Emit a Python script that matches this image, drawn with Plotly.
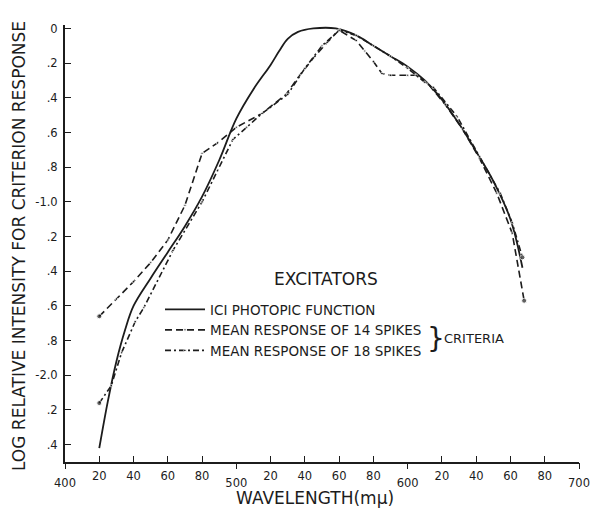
import plotly.graph_objects as go

# ICI photopic luminosity function (log relative sensitivity)
photopic_nm = [420, 425, 430, 435, 440, 450, 460, 470, 480, 490, 500, 510, 520,
               525, 530, 536, 545, 558, 570, 580, 590, 600, 610, 620, 630, 640,
               650, 660, 667]
photopic_log = [-2.42, -2.15, -1.92, -1.74, -1.60, -1.44, -1.29, -1.14, -0.97, -0.76,
                -0.52, -0.35, -0.21, -0.13, -0.06, -0.02, 0.0, 0.0, -0.04, -0.10,
                -0.16, -0.22, -0.30, -0.41, -0.55, -0.71, -0.88, -1.10, -1.38]

# Mean response of 14 spikes
spikes14_nm = [420, 430, 440, 450, 460, 470, 480, 489, 500, 515, 529, 537, 545, 553,
               560, 570, 575, 580, 585, 590, 600, 605, 612, 622, 632, 642, 652, 661, 668]
spikes14_log = [-1.66, -1.56, -1.46, -1.35, -1.22, -1.02, -0.72, -0.66, -0.57, -0.49,
                -0.38, -0.27, -0.17, -0.08, -0.01, -0.07, -0.13, -0.19, -0.26, -0.27,
                -0.27, -0.27, -0.32, -0.44, -0.58, -0.75, -0.95, -1.18, -1.57]

# Mean response of 18 spikes
spikes18_nm = [420, 427, 433, 441, 446, 463, 480, 489, 498, 506, 515, 530, 540, 550,
               560, 570, 580, 590, 600, 610, 615, 629, 642, 654, 661, 667]
spikes18_log = [-2.16, -2.06, -1.87, -1.69, -1.61, -1.28, -1.00, -0.82, -0.64, -0.57,
                -0.49, -0.38, -0.23, -0.10, -0.01, -0.04, -0.10, -0.16, -0.23, -0.31,
                -0.34, -0.51, -0.74, -0.95, -1.12, -1.32]

# Axis ticks
x_minor_vals = [420, 440, 460, 480, 520, 540, 560, 580, 620, 640, 660, 680]
x_minor_text = ["20", "40", "60", "80", "20", "40", "60", "80", "20", "40", "60", "80"]
x_major_vals = [400, 500, 600, 700]
x_major_text = ["400", "500", "600", "700"]
y_tick_vals = [0, -0.2, -0.4, -0.6, -0.8, -1.0, -1.2, -1.4, -1.6, -1.8, -2.0, -2.2, -2.4]
y_tick_text = ["0", ".2", ".4", ".6", ".8", "-1.0", ".2", ".4", ".6", ".8", "-2.0", ".2", ".4"]

FONT = "DejaVu Sans"
INK = "#1c1c1c"

# plot-area geometry in pixels
L, R, T, B = 65, 13, 25, 51
W, H = 592, 513
PW, PH = W - L - R, H - T - B


def px(x):
    return (x - L) / PW


def py(y):
    return (H - B - y) / PH


def end_sizes(n, end=5, mid=2.5):
    return [end] + [mid] * (n - 2) + [end]


fig = go.Figure()
fig.add_trace(go.Scatter(
    x=photopic_nm, y=photopic_log, mode="lines", line_shape="spline",
    name="ICI PHOTOPIC FUNCTION",
    line=dict(color=INK, width=1.8),
))
fig.add_trace(go.Scatter(
    x=spikes14_nm, y=spikes14_log, mode="lines+markers",
    name="MEAN RESPONSE OF 14 SPIKES",
    line=dict(color=INK, width=1.6, dash="7px,4px"),
    marker=dict(color=INK, size=end_sizes(len(spikes14_nm))),
))
fig.add_trace(go.Scatter(
    x=spikes18_nm, y=spikes18_log, mode="lines+markers",
    name="MEAN RESPONSE OF 18 SPIKES",
    line=dict(color=INK, width=1.6, dash="6px,3px,2px,3px"),
    marker=dict(color=INK, size=end_sizes(len(spikes18_nm))),
))
# empty trace on the overlaid x axis that carries the hundreds labels
fig.add_trace(go.Scatter(x=[400, 700], y=[None, None], xaxis="x2",
                         showlegend=False, hoverinfo="skip"))

fig.update_layout(
    width=W, height=H,
    margin=dict(l=L, r=R, t=T, b=B, autoexpand=False),
    paper_bgcolor="white", plot_bgcolor="white",
    font=dict(family=FONT, color=INK, size=11),
    showlegend=True,
    legend=dict(
        x=px(160), y=py(294), xanchor="left", yanchor="top",
        bgcolor="rgba(0,0,0,0)", font=dict(size=13.5, family=FONT, color=INK),
        itemwidth=40, tracegroupgap=0,
    ),
    xaxis=dict(
        range=[400, 700], showgrid=False, zeroline=False,
        showline=True, linecolor=INK, linewidth=2,
        tickmode="array", tickvals=x_minor_vals, ticktext=x_minor_text,
        ticks="inside", ticklen=6, tickcolor=INK, tickwidth=1.2,
        tickfont=dict(size=11.5), ticklabelstandoff=2,
    ),
    xaxis2=dict(
        range=[400, 700], overlaying="x", anchor="y", side="bottom",
        showgrid=False, zeroline=False, showline=False,
        tickmode="array", tickvals=x_major_vals, ticktext=x_major_text,
        ticks="outside", ticklen=6, tickcolor=INK, tickwidth=1.2,
        tickfont=dict(size=11.5), ticklabelstandoff=4,
    ),
    yaxis=dict(
        range=[-2.5, 0.02], showgrid=False, zeroline=False,
        showline=True, linecolor=INK, linewidth=2,
        tickmode="array", tickvals=y_tick_vals, ticktext=y_tick_text,
        ticks="inside", ticklen=6, tickcolor=INK, tickwidth=1.2,
        tickfont=dict(size=11.5), ticklabelstandoff=3,
    ),
    annotations=[
        dict(text="EXCITATORS", xref="paper", yref="paper",
             x=px(326), y=py(279), xanchor="center", yanchor="middle",
             showarrow=False, font=dict(size=17, family=FONT, color=INK)),
        dict(text="}", xref="paper", yref="paper",
             x=px(436), y=py(338), xanchor="center", yanchor="middle",
             showarrow=False, font=dict(size=28, family=FONT, color=INK)),
        dict(text="CRITERIA", xref="paper", yref="paper",
             x=px(442), y=py(338), xanchor="left", yanchor="middle",
             showarrow=False, font=dict(size=13, family=FONT, color=INK)),
        dict(text="LOG RELATIVE INTENSITY FOR CRITERION RESPONSE", xref="paper", yref="paper",
             x=px(19), y=py(246), xanchor="center", yanchor="middle", textangle=-90,
             showarrow=False, font=dict(size=17, family=FONT, color=INK)),
        dict(text="WAVELENGTH(m\u03bc)", xref="paper", yref="paper",
             x=px(315), y=py(498), xanchor="center", yanchor="middle",
             showarrow=False, font=dict(size=17, family=FONT, color=INK)),
    ],
)

fig.write_html("out.html")
